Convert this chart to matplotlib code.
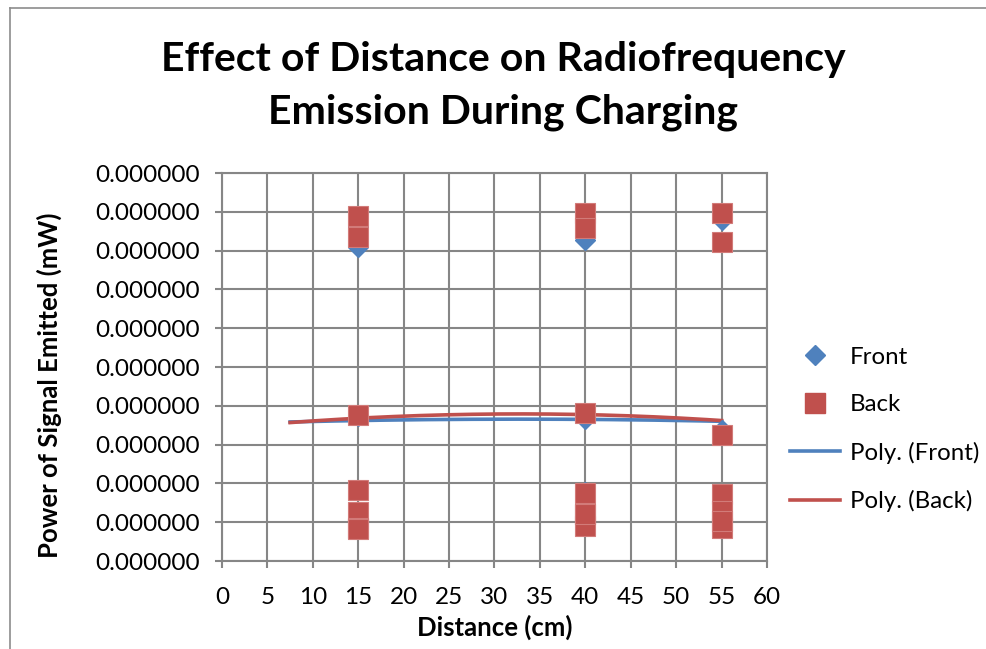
import matplotlib.pyplot as plt
from matplotlib.lines import Line2D
from matplotlib.ticker import FormatStrFormatter, MultipleLocator
import numpy as np

plt.rcParams['font.family'] = ['Lato', 'DejaVu Sans']

# values, in units of 1e-8 mW (all ticks print as 0.000000)
SCALE = 1e-8
distance = [15, 15, 15, 15, 15, 15, 15,
            40, 40, 40, 40, 40, 40, 40,
            55, 55, 55, 55, 55, 55, 55]
front = [8.09, 8.60, 3.74, 1.83, 1.20, 0.90, 0.98,
         8.27, 8.80, 3.66, 1.79, 1.20, 0.90, 0.93,
         8.79, 8.22, 3.38, 1.73, 1.20, 1.00, 0.88]
back = [8.89, 8.35, 3.76, 1.82, 1.26, 0.85, 0.83,
        8.97, 8.58, 3.81, 1.76, 1.20, 0.89, 1.20,
        8.97, 8.22, 3.25, 1.72, 1.29, 0.85, 1.04]

BLUE = '#4F81BD'
RED = '#C0504D'
GRID = '#868686'

fig = plt.figure(figsize=(9.87, 6.49), dpi=100)
ax = fig.add_axes([222/987, 1 - 561/649, 545/987, 388/649])

x = np.array(distance)
yf = np.array(front) * SCALE
yb = np.array(back) * SCALE

# polynomial (order 2) trendlines, forecast backward by 7.5 like excel
xt = np.linspace(7.5, 55, 200)
pf = np.polyfit(x, yf, 2)
pb = np.polyfit(x, yb, 2)
ax.plot(xt, np.polyval(pf, xt), color=BLUE, lw=2.6, zorder=3)
ax.plot(xt, np.polyval(pb, xt), color=RED, lw=2.6, zorder=3)

ax.plot(x, yf, ls='none', marker='D', ms=10, color=BLUE, mec=BLUE, zorder=4)
ax.plot(x, yb, ls='none', marker='s', ms=15, color=RED, mec='#D27B79', mew=0.8, zorder=5)

ax.set_xlim(0, 60)
ax.set_ylim(0, 10 * SCALE)
ax.xaxis.set_major_locator(MultipleLocator(5))
ax.yaxis.set_major_locator(MultipleLocator(SCALE))
ax.yaxis.set_major_formatter(FormatStrFormatter('%.6f'))
ax.grid(True, color=GRID, lw=1.5, zorder=0)
ax.set_axisbelow(True)
for s in ax.spines.values():
    s.set_color(GRID)
    s.set_linewidth(1.5)
ax.tick_params(axis='both', colors=GRID, labelcolor='black', labelsize=17.5,
               length=5, width=1.5)
ax.tick_params(axis='x', pad=14)
ax.tick_params(axis='y', pad=11)

ax.set_xlabel('Distance (cm)', fontsize=18.5, fontweight='bold')
ax.set_ylabel('Power of Signal Emitted (mW)', fontsize=18.5, fontweight='bold')
ax.xaxis.set_label_coords(0.5, (561 - 615) / 388)
ax.yaxis.set_label_coords((62 - 222) / 545, (561 - 385) / 388)

fig.text(0.51, 1 - 86/649, 'Effect of Distance on Radiofrequency\nEmission During Charging',
         ha='center', va='center', fontsize=29.5, fontweight='bold', linespacing=1.5)

handles = [
    Line2D([], [], ls='none', marker='D', ms=10, color=BLUE),
    Line2D([], [], ls='none', marker='s', ms=14, color=RED),
    Line2D([], [], color=BLUE, lw=2.6),
    Line2D([], [], color=RED, lw=2.6),
]
labels = ['Front', 'Back', 'Poly. (Front)', 'Poly. (Back)']
fig.legend(handles, labels, loc='upper left', bbox_to_anchor=(768/987, 1 - 325/649),
           frameon=False, fontsize=17.3, handlelength=2.1, labelspacing=1.1,
           handletextpad=0.4)

# chart area border
fig.add_artist(Line2D([10/987, 10/987], [0, 1 - 8/649], color='#8C8C8C', lw=1.2))
fig.add_artist(Line2D([10/987, 1], [1 - 8/649, 1 - 8/649], color='#8C8C8C', lw=1.2))

fig.savefig('out.png', dpi=100)
